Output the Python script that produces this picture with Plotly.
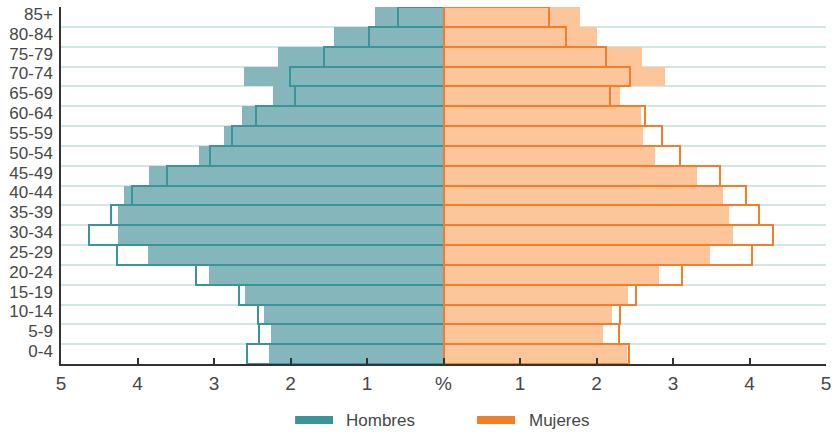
import plotly.graph_objects as go

age_groups = ["0-4", "5-9", "10-14", "15-19", "20-24", "25-29", "30-34", "35-39",
              "40-44", "45-49", "50-54", "55-59", "60-64", "65-69", "70-74",
              "75-79", "80-84", "85+"]

# Filled bars (current period)
hombres_fill = [2.28, 2.25, 2.35, 2.60, 3.07, 3.86, 4.25, 4.25,
                4.18, 3.85, 3.20, 2.87, 2.64, 2.23, 2.61, 2.17, 1.43, 0.90]
mujeres_fill = [2.40, 2.09, 2.20, 2.41, 2.82, 3.48, 3.78, 3.73,
                3.65, 3.31, 2.76, 2.61, 2.58, 2.31, 2.89, 2.59, 2.00, 1.78]

# Outlined bars (comparison period)
hombres_line = [2.57, 2.41, 2.42, 2.67, 3.24, 4.27, 4.63, 4.34,
                4.07, 3.62, 3.05, 2.76, 2.45, 1.94, 2.01, 1.56, 0.98, 0.60]
mujeres_line = [2.42, 2.29, 2.31, 2.52, 3.12, 4.03, 4.31, 4.12,
                3.95, 3.62, 3.09, 2.86, 2.64, 2.17, 2.44, 2.13, 1.60, 1.38]

x_tickvals = [-5, -4, -3, -2, -1, 0, 1, 2, 3, 4, 5]
x_ticktext = ["5", "4", "3", "2", "1", "%", "1", "2", "3", "4", "5"]

legend_names = ["Hombres", "Mujeres"]

TEAL_FILL = "#85b6bb"
TEAL_LINE = "#3a9499"
ORANGE_FILL = "#fcc59a"
ORANGE_LINE = "#f27d2a"
FONT = "Liberation Sans, Arial, sans-serif"
TXT = "#474747"

ypos = list(range(len(age_groups)))

fig = go.Figure()
fig.add_trace(go.Bar(y=ypos, x=[-v for v in hombres_fill], orientation="h", width=1,
                     marker=dict(color=TEAL_FILL, line=dict(width=0)), showlegend=False))
fig.add_trace(go.Bar(y=ypos, x=mujeres_fill, orientation="h", width=1,
                     marker=dict(color=ORANGE_FILL, line=dict(width=0)), showlegend=False))
fig.add_trace(go.Bar(y=ypos, x=[-v for v in hombres_line], orientation="h", width=1,
                     marker=dict(color="rgba(0,0,0,0)", line=dict(color=TEAL_LINE, width=2)),
                     showlegend=False))
fig.add_trace(go.Bar(y=ypos, x=mujeres_line, orientation="h", width=1,
                     marker=dict(color="rgba(0,0,0,0)", line=dict(color=ORANGE_LINE, width=2)),
                     showlegend=False))

fig.update_layout(
    width=833, height=433,
    margin=dict(l=61, r=7, t=7, b=69),
    barmode="overlay", bargap=0,
    plot_bgcolor="white", paper_bgcolor="white",
    font=dict(family=FONT, color=TXT),
    xaxis=dict(range=[-5, 5], tickvals=x_tickvals, ticktext=x_ticktext, automargin=False,
               showgrid=False, zeroline=False, showline=True, linecolor="#333333",
               linewidth=1.5, ticks="inside", ticklen=6, tickcolor="#333333", tickwidth=1.5,
               tickfont=dict(size=19, color=TXT), ticklabelstandoff=1, fixedrange=True),
    yaxis=dict(range=[-0.5, 17.5], tickvals=ypos, ticktext=age_groups, automargin=False,
               showgrid=False, zeroline=False, showline=True, linecolor="#333333",
               linewidth=1.5, ticks="", tickfont=dict(size=17, color=TXT),
               ticklabelstandoff=3, ticklabelshift=-3,
               minor=dict(tickmode="linear", tick0=-0.5, dtick=1, showgrid=True,
                          gridcolor="#d3e6e6", gridwidth=2, ticks=""),
               fixedrange=True),
)

# Legend drawn manually to match wide swatches
leg = [(0.306, 0.3556, 0.370, TEAL_LINE, legend_names[0]),
       (0.5438, 0.5935, 0.609, ORANGE_LINE, legend_names[1])]
for x0, x1, xt, col, name in leg:
    fig.add_shape(type="rect", xref="paper", yref="paper", x0=x0, x1=x1,
                  y0=-0.168, y1=-0.146, fillcolor=col, line=dict(width=0))
    fig.add_annotation(xref="paper", yref="paper", x=xt, y=-0.157, text=name,
                       showarrow=False, xanchor="left", yanchor="middle",
                       font=dict(size=17, color=TXT, family=FONT))

fig.write_html("out.html", config={"displayModeBar": False},
               post_script="document.body.style.margin='0';document.body.style.overflow='hidden';")
